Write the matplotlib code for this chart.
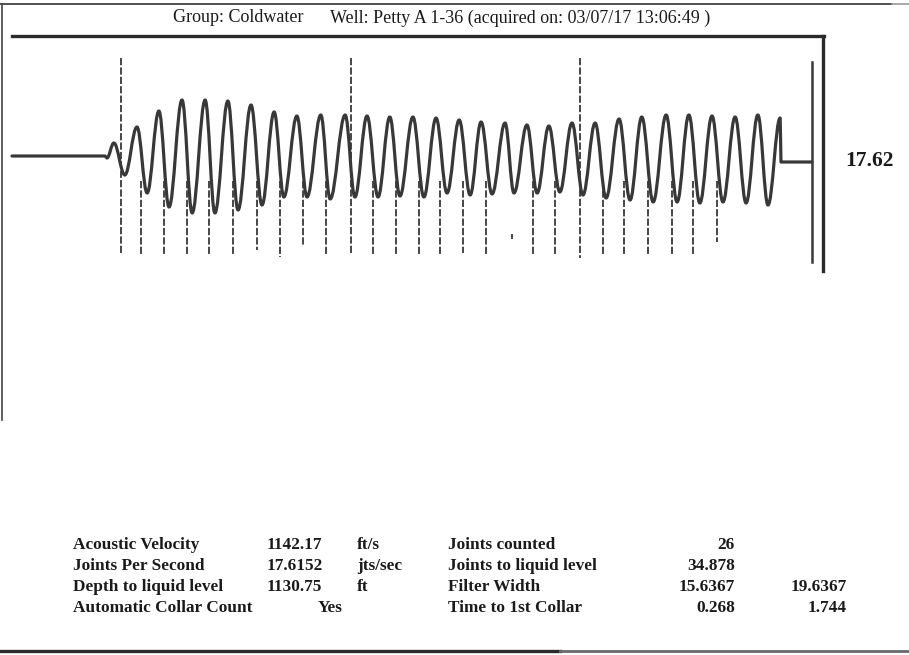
import matplotlib
matplotlib.use("Agg")
import matplotlib.pyplot as plt
from matplotlib.lines import Line2D
from matplotlib.path import Path
from matplotlib.patches import PathPatch

W, H = 909, 655

# --- acoustic trace: time (s) vs relative amplitude ---
lead_t = [0.000, 0.229, 0.234]
lead_a = [0.00, 0.00, -0.04]

ext_t = [0.251, 0.278, 0.308, 0.333, 0.362, 0.387, 0.419, 0.444, 0.476, 0.500,
         0.532, 0.557, 0.589, 0.616, 0.646, 0.670, 0.702, 0.727, 0.761, 0.784,
         0.821, 0.845, 0.875, 0.902, 0.931, 0.956, 0.988, 1.015, 1.045, 1.072,
         1.102, 1.129, 1.156, 1.183, 1.215, 1.237, 1.269, 1.294, 1.323, 1.350,
         1.380, 1.407, 1.437, 1.464, 1.496, 1.523, 1.552, 1.580, 1.612, 1.639,
         1.668, 1.695, 1.725, 1.752, 1.782, 1.809, 1.838, 1.863, 1.893]
ext_a = [0.26, -0.38, 0.58, -0.74, 0.90, -1.02, 1.12, -1.14, 1.12, -1.14,
         1.10, -1.08, 1.02, -0.98, 0.88, -0.82, 0.80, -0.82, 0.82, -0.86,
         0.82, -0.82, 0.80, -0.82, 0.78, -0.80, 0.78, -0.82, 0.76, -0.74,
         0.72, -0.78, 0.68, -0.76, 0.66, -0.74, 0.62, -0.74, 0.60, -0.72,
         0.66, -0.78, 0.66, -0.84, 0.74, -0.88, 0.78, -0.92, 0.82, -0.92,
         0.82, -0.94, 0.80, -0.92, 0.78, -0.94, 0.82, -0.98, 0.76]

tail_t = [1.895, 1.971]
tail_a = [-0.12, -0.12]

# collar markers (time of each collar), bottom of each dashed mark
collar_t = [0.268, 0.318, 0.375, 0.431, 0.485, 0.545, 0.604, 0.660, 0.717, 0.774,
            0.836, 0.890, 0.946, 1.003, 1.055, 1.111, 1.168, 1.232, 1.284, 1.338,
            1.400, 1.456, 1.508, 1.567, 1.626, 1.678, 1.737]
collar_bot = [-1.98, -1.98, -1.98, -1.98, -1.98, -1.98, -1.88, -2.02, -1.80, -1.98,
              -1.98, -1.98, -1.98, -1.98, -1.98, -1.94, -1.98, -1.66, -1.98, -1.98,
              -2.04, -1.98, -1.98, -1.98, -1.98, -1.98, -1.72]
collar_top = [-0.50] * len(collar_t)
collar_top[17] = -1.56
tall_idx = [0, 10, 20]
tall_top = 1.96
end_t = 1.971
end_span = (1.88, -2.12)
liquid_label = "17.62"

# --- summary table ---
left_labels = ["Acoustic Velocity", "Joints Per Second", "Depth to liquid level",
               "Automatic Collar Count"]
left_values = ["1142.17", "17.6152", "1130.75", "Yes"]
left_units = ["ft/s", "jts/sec", "ft", ""]
right_labels = ["Joints counted", "Joints to liquid level", "Filter Width",
                "Time to 1st Collar"]
right_values = ["26", "34.878", "15.6367", "0.268"]
right_values2 = ["", "", "19.6367", "1.744"]

title_group = "Group: Coldwater"
title_well = "Well: Petty A 1-36 (acquired on: 03/07/17 13:06:49 )"

INK = "#1a1a1a"
TRACE = "#383838"
SERIF = ["Liberation Serif", "DejaVu Serif"]

fig = plt.figure(figsize=(W / 100, H / 100), dpi=100)
fig.patch.set_facecolor("white")

ax = fig.add_axes([0, 0, 1, 1])
ax.set_xlim(-12 / 405.8, (W - 12) / 405.8)
ax.set_ylim((156 - H) / 50, 156 / 50)
ax.axis("off")


def fx(px):
    return px / W


def fy(py):
    return 1 - py / H


# trace: straight lead-in, smooth swings between the read extremes, then tail
verts = [(t, a) for t, a in zip(lead_t, lead_a)]
codes = [Path.MOVETO] + [Path.LINETO] * (len(lead_t) - 1)
prev = verts[-1]
for t, a in zip(ext_t, ext_a):
    dt = t - prev[0]
    verts += [(prev[0] + 0.38 * dt, prev[1]), (t - 0.38 * dt, a), (t, a)]
    codes += [Path.CURVE4] * 3
    prev = (t, a)
for t, a in zip(tail_t, tail_a):
    verts.append((t, a))
    codes.append(Path.LINETO)
ax.add_patch(PathPatch(Path(verts, codes), fill=False, edgecolor=TRACE,
                       lw=2.3, joinstyle="round", capstyle="round", zorder=3))

# collar marks
for i, (t, top, bot) in enumerate(zip(collar_t, collar_top, collar_bot)):
    if i in tall_idx:
        top = tall_top
    ax.plot([t, t], [top, bot], color=TRACE, lw=1.3,
            linestyle=(0, (4, 1.2)), zorder=2)

# liquid level marker
ax.plot([end_t, end_t], list(end_span), color=TRACE, lw=1.8, zorder=2)
fig.text(fx(845), fy(161), liquid_label, ha="left", va="center",
         fontsize=15.5, fontweight="bold", family=SERIF, color=INK)

# frame lines of the printout
def hline(y, x0, x1, lw, color=INK):
    fig.add_artist(Line2D([fx(x0), fx(x1)], [fy(y), fy(y)], lw=lw, color=color))


def vline(x, y0, y1, lw, color=INK):
    fig.add_artist(Line2D([fx(x), fx(x)], [fy(y0), fy(y1)], lw=lw, color=color))


hline(4, 0, 892, 1.2, "#333333")
hline(4, 892, 909, 1.2, "#9a9a9a")
vline(2, 4, 420, 1.2, "#444444")
hline(36, 12, 824, 2.4, "#2a2a2a")
vline(823, 36, 271, 2.4, "#2a2a2a")
hline(651, 0, 560, 2.4, "#2a2a2a")
hline(651, 560, 909, 2.0, "#6a6a6a")

# title
fig.text(fx(173), fy(18), title_group, ha="left", va="center", fontsize=13,
         family=SERIF, color=INK)
fig.text(fx(330), fy(18), title_well, ha="left", va="center", fontsize=13,
         family=SERIF, color=INK)

# summary table
rows_y = [545, 566, 587, 608]
for i, y in enumerate(rows_y):
    kw = dict(va="center", fontsize=12.4, family=SERIF, color=INK, fontweight="bold")
    fig.text(fx(73), fy(y), left_labels[i], ha="left", **kw)
    if left_values[i] == "Yes":
        fig.text(fx(343), fy(y), left_values[i], ha="right", **kw)
    else:
        fig.text(fx(267), fy(y), left_values[i], ha="left", **kw)
    fig.text(fx(357), fy(y), left_units[i], ha="left", **kw)
    fig.text(fx(448), fy(y), right_labels[i], ha="left", **kw)
    fig.text(fx(735), fy(y), right_values[i], ha="right", **kw)
    fig.text(fx(847), fy(y), right_values2[i], ha="right", **kw)

fig.savefig("out.png", dpi=100, facecolor="white")
